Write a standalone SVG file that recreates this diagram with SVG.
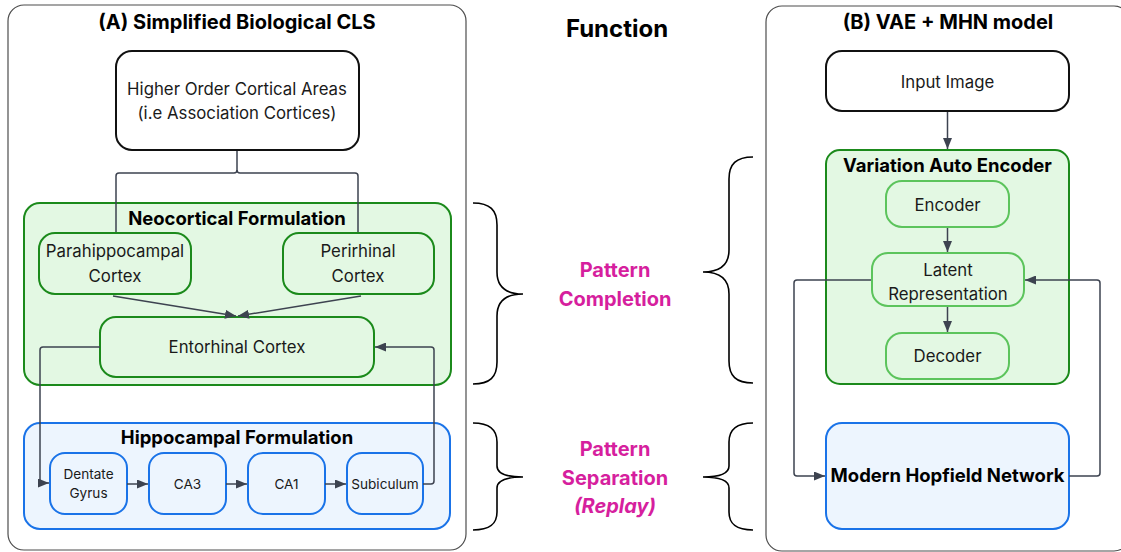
<svg xmlns="http://www.w3.org/2000/svg" width="1121" height="552" viewBox="0 0 1121 552">
<defs>
<marker id="ah" viewBox="0 0 11 9" refX="11" refY="4.5" markerWidth="11" markerHeight="9" markerUnits="userSpaceOnUse" orient="auto">
<path d="M0,0 L11,4.5 L0,9 Z" fill="#3d4350"/>
</marker>
<style>
text{font-family:Inter,"Noto Sans","Liberation Sans",sans-serif;fill:#1a1a1a;text-anchor:middle}
.panel{fill:#fff;stroke:#4d4d4d;stroke-width:1.2}
.blk{fill:#fff;stroke:#111;stroke-width:2}
.grp-g{fill:#e3f8e3;stroke:#1b8a1b;stroke-width:2}
.node-g{fill:#e3f8e3;stroke:#1b8a1b;stroke-width:2}
.node-lg{fill:#e3f8e3;stroke:#5cc45c;stroke-width:2}
.grp-b{fill:#edf5fe;stroke:#1a73e8;stroke-width:2}
.node-b{fill:#edf5fe;stroke:#1a73e8;stroke-width:2}
.t16{font-size:16.8px}
.t14{font-size:13.6px}
.gt{font-size:18.5px;font-weight:700;fill:#000}
.ttl{font-size:20px;font-weight:700;fill:#000}
.fn{font-size:20px;font-weight:700;fill:#d61f9e}
.edge{fill:none;stroke:#3d4350;stroke-width:1.5}
.arr{marker-end:url(#ah)}
.brace{fill:none;stroke:#000;stroke-width:1.6}
</style>
</defs>

<g id="panelA">
<rect class="panel" x="8" y="5" width="458" height="545" rx="16"/>
<text class="ttl" x="237" y="29">(A) Simplified Biological CLS</text>
</g>

<g id="panelB">
<rect class="panel" x="766" y="6" width="364" height="545" rx="16"/>
<text class="ttl" x="948" y="29">(B) VAE + MHN model</text>
</g>

<g id="function">
<text x="617" y="37" style="font-size:24px;font-weight:700;fill:#000">Function</text>
<path class="brace" d="M473,203 C490,203 497,210 497,225 L497,272 C497,287 506,294 523,294 C506,294 497,301 497,316 L497,362 C497,377 490,384 473,384"/>
<path class="brace" d="M753,157 C736,157 729,164 729,179 L729,250 C729,265 720,272 703,272 C720,272 729,279 729,294 L729,361 C729,376 736,383 753,383"/>
<path class="brace" d="M473,423 C490,423 497,430 497,442 L497,466 C497,474 506,477 523,477 C506,477 497,480 497,488 L497,512 C497,524 490,530 473,530"/>
<path class="brace" d="M753,423 C736,423 729,430 729,442 L729,466 C729,474 720,477 703,477 C720,477 729,480 729,488 L729,512 C729,524 736,530 753,530"/>
<text class="fn" x="615" y="277">Pattern</text>
<text class="fn" x="615" y="306">Completion</text>
<text class="fn" x="615" y="456">Pattern</text>
<text class="fn" x="615" y="485">Separation</text>
<text class="fn" x="615" y="513" font-style="italic">(Replay)</text>
</g>

<g id="higher">
<rect class="blk" x="116" y="51" width="243" height="99" rx="16"/>
<text class="t16" x="237" y="95">Higher Order Cortical Areas</text>
<text class="t16" x="237" y="119">(i.e Association Cortices)</text>
</g>

<g id="neocortical">
<rect class="grp-g" x="24" y="203" width="427" height="182" rx="16"/>
<text class="gt" x="237" y="225">Neocortical Formulation</text>
</g>

<g id="parahippocampal">
<rect class="node-g" x="39" y="233" width="152" height="61" rx="16"/>
<text class="t16" x="115" y="257">Parahippocampal</text>
<text class="t16" x="115" y="282">Cortex</text>
</g>

<g id="perirhinal">
<rect class="node-g" x="283" y="233" width="151" height="61" rx="16"/>
<text class="t16" x="358" y="257">Perirhinal</text>
<text class="t16" x="358" y="282">Cortex</text>
</g>

<g id="entorhinal">
<rect class="node-g" x="100" y="317" width="274" height="60" rx="16"/>
<text class="t16" x="237" y="353">Entorhinal Cortex</text>
</g>

<g id="hippocampal">
<rect class="grp-b" x="24" y="423" width="426" height="106" rx="16"/>
<text class="gt" x="237" y="444">Hippocampal Formulation</text>
</g>

<g id="dentate">
<rect class="node-b" x="50" y="453" width="77" height="61" rx="15"/>
<text class="t14" x="88.5" y="479">Dentate</text>
<text class="t14" x="88.5" y="498">Gyrus</text>
</g>
<g id="ca3">
<rect class="node-b" x="149" y="453" width="77" height="61" rx="15"/>
<text class="t14" x="187.5" y="489">CA3</text>
</g>
<g id="ca1">
<rect class="node-b" x="248" y="453" width="77" height="61" rx="15"/>
<text class="t14" x="286.5" y="489">CA1</text>
</g>
<g id="subiculum">
<rect class="node-b" x="347" y="453" width="76" height="61" rx="15"/>
<text class="t14" x="385" y="489">Subiculum</text>
</g>

<g id="input">
<rect class="blk" x="826" y="51" width="243" height="60" rx="16"/>
<text class="t16" x="947.5" y="88">Input Image</text>
</g>

<g id="vae">
<rect class="grp-g" x="826" y="150" width="243" height="234" rx="14"/>
<text class="gt" x="947.5" y="172">Variation Auto Encoder</text>
</g>

<g id="encoder">
<rect class="node-lg" x="886" y="181" width="123" height="46" rx="16"/>
<text class="t16" x="947.5" y="211">Encoder</text>
</g>
<g id="latent">
<rect class="node-lg" x="872" y="253" width="152" height="53" rx="16"/>
<text class="t16" x="948" y="276">Latent</text>
<text class="t16" x="948" y="300">Representation</text>
</g>
<g id="decoder">
<rect class="node-lg" x="886" y="333" width="123" height="46" rx="16"/>
<text class="t16" x="947.5" y="362">Decoder</text>
</g>

<g id="mhn">
<rect class="node-b" x="826" y="423" width="243" height="106" rx="16"/>
<text x="947.5" y="482" style="font-size:18.5px;font-weight:700;fill:#000">Modern Hopfield Network</text>
</g>

<g id="connectors">
<path class="edge" d="M237,151 L237,170 Q237,173 234,173 L119,173 Q116,173 116,176 L116,232"/>
<path class="edge" d="M237,170 Q237,173 240,173 L355,173 Q358,173 358,176 L358,232"/>
<path class="edge arr" d="M113,296 L236,316"/>
<path class="edge arr" d="M361,296 L238,316"/>
<path class="edge arr" d="M100,347 L43,347 Q40,347 40,350 L40,480 Q40,483 43,483 L49,483"/>
<path class="edge arr" d="M423,484 L431,484 Q434,484 434,481 L434,350 Q434,347 431,347 L375,347"/>
<path class="edge arr" d="M127,484 L148,484"/>
<path class="edge arr" d="M226,484 L247,484"/>
<path class="edge arr" d="M325,484 L346,484"/>
<path class="edge arr" d="M947.5,112 L947.5,149"/>
<path class="edge arr" d="M947.5,228 L947.5,252"/>
<path class="edge arr" d="M947.5,307 L947.5,332"/>
<path class="edge arr" d="M871,280 L797,280 Q794,280 794,283 L794,473 Q794,476 797,476 L825,476"/>
<path class="edge arr" d="M1069,476 L1097,476 Q1100,476 1100,473 L1100,283 Q1100,280 1097,280 L1025,280"/>
</g>
</svg>
